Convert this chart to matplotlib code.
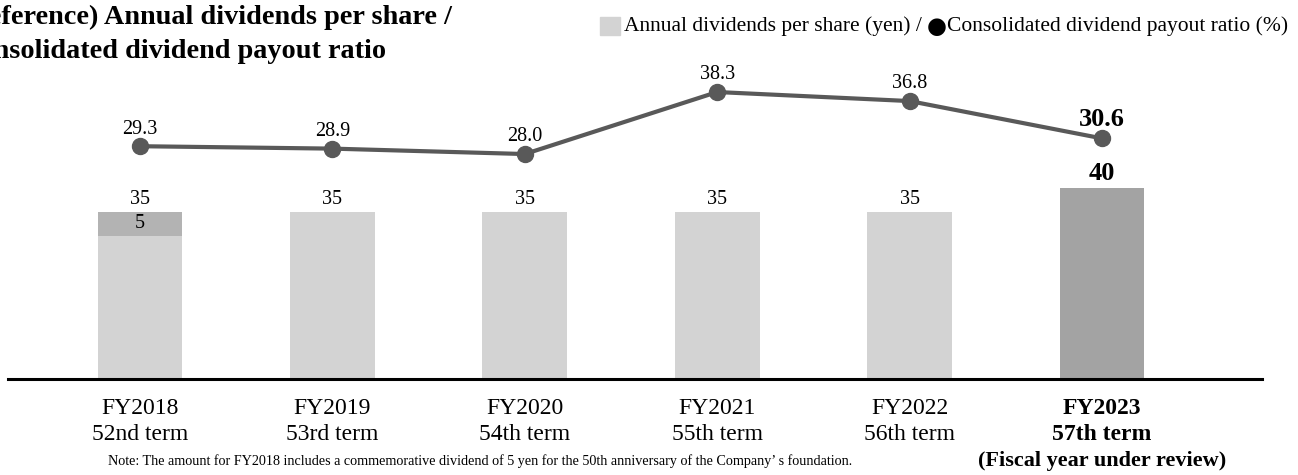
import matplotlib
matplotlib.use("Agg")
import matplotlib.pyplot as plt
from matplotlib.patches import Rectangle
from matplotlib.transforms import ScaledTranslation

plt.rcParams['font.family'] = ['Liberation Serif', 'DejaVu Sans']

# data
years = ["FY2018", "FY2019", "FY2020", "FY2021", "FY2022", "FY2023"]
terms = ["52nd term", "53rd term", "54th term", "55th term", "56th term", "57th term"]
ordinary_div = [30, 35, 35, 35, 35, 40]
commemorative_div = [5, 0, 0, 0, 0, 0]
payout_ratio = [29.3, 28.9, 28.0, 38.3, 36.8, 30.6]

W, H = 1298, 475
fig = plt.figure(figsize=(W / 100, H / 100), dpi=100)

# axes box in pixels
x0, x1 = 8, 1262
y_base, y_top = 379, 60
ax = fig.add_axes([x0 / W, (H - y_base) / H, (x1 - x0) / W, (y_base - y_top) / H])
ax2 = ax.twinx()

light = "#d3d3d3"
mid = "#b3b3b3"
dark = "#a3a3a3"
line_c = "#595959"

xs = list(range(len(years)))
bar_colors = [light] * 5 + [dark]
bw = 0.44
ax.bar(xs, ordinary_div, width=bw, color=bar_colors, zorder=2)
ax.bar(xs, commemorative_div, width=bw, bottom=ordinary_div, color=mid, zorder=2)

px_per_unit = 192.4
left_off = (140 - x0) / px_per_unit
ax.set_xlim(-left_off, -left_off + (x1 - x0) / px_per_unit)
ax.set_ylim(0, (y_base - y_top) / 4.77)

# bar labels
for i, (o, c) in enumerate(zip(ordinary_div, commemorative_div)):
    tot = o + c
    last = i == len(years) - 1
    ax.annotate(str(tot), (i, tot), xytext=(0, 2.5), textcoords="offset points",
                ha="center", va="bottom",
                fontsize=19 if last else 14.5,
                fontweight="bold" if last else "normal")
    if c:
        ax.text(i, o + c / 2, str(c), ha="center", va="center", fontsize=14.5)

# payout ratio line
ax2.plot(xs, payout_ratio, color=line_c, lw=3, marker="o", ms=11.5, zorder=3)
zero_px = 322.6
ppu2 = 6.02
lo2 = -(y_base - zero_px) / ppu2
ax2.set_ylim(lo2, lo2 + (y_base - y_top) / ppu2)
for i, v in enumerate(payout_ratio):
    last = i == len(years) - 1
    ax2.annotate(f"{v:.1f}", (i, v), xytext=(0, 5.5), textcoords="offset points",
                 ha="center", va="bottom",
                 fontsize=19 if last else 14.5,
                 fontweight="bold" if last else "normal")

for a in (ax, ax2):
    for s in ("top", "right", "left"):
        a.spines[s].set_visible(False)
    a.set_yticks([])
ax.spines["bottom"].set_linewidth(2.2)
ax2.spines["bottom"].set_visible(False)

labels = [f"{y}\n{t}" for y, t in zip(years, terms)]
ax.set_xticks(xs)
ax.set_xticklabels(labels, fontsize=17, linespacing=1.3, va="top")
ax.tick_params(axis="x", length=0, pad=13.5)
ax.get_xticklabels()[-1].set_fontweight("bold")
ax.text(5, 0, "(Fiscal year under review)",
        transform=ax.get_xaxis_transform() + ScaledTranslation(0, -(461 - y_base) / 100, fig.dpi_scale_trans),
        fontsize=16, fontweight="bold", ha="center", va="center")

# title (clipped at the left edge like the source)
fig.text(-41 / W, 1 - 17 / H, "(Reference) Annual dividends per share /",
         fontsize=20.3, fontweight="bold", ha="left", va="center")
fig.text(-41 / W, 1 - 51 / H, "Consolidated dividend payout ratio",
         fontsize=20.3, fontweight="bold", ha="left", va="center")

# legend
fig.patches.append(Rectangle((600 / W, 1 - 35 / H), 20 / W, 18 / H,
                             transform=fig.transFigure, color=light))
renderer = fig.canvas.get_renderer()
leg_y = 1 - 26 / H
t1 = fig.text(624 / W, leg_y, "Annual dividends per share (yen) / ",
              fontsize=15.5, ha="left", va="center")
e1 = t1.get_window_extent(renderer)
t2 = fig.text(e1.x1 / W, leg_y, "\u25cf", family="DejaVu Sans",
              fontsize=16.5, ha="left", va="center")
e2 = t2.get_window_extent(renderer)
fig.text(e2.x1 / W, leg_y, "Consolidated dividend payout ratio (%)",
         fontsize=15.5, ha="left", va="center")

# note
fig.text(108 / W, 1 - 461 / H,
         "Note: The amount for FY2018 includes a commemorative dividend of 5 yen for the 50th anniversary of the Company\u2019 s foundation.",
         fontsize=10.2, ha="left", va="center")

fig.savefig("out.png", dpi=100)
